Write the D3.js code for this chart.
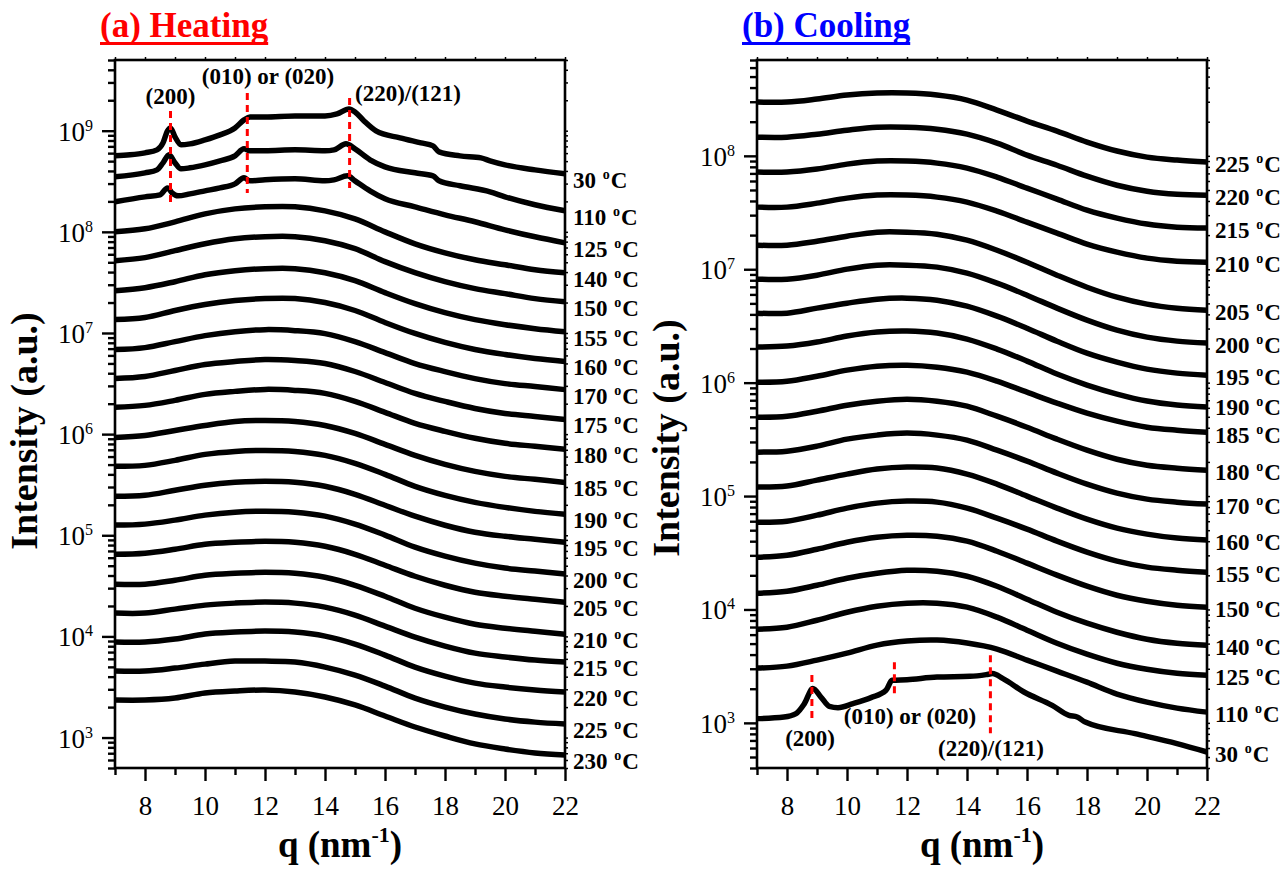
<!DOCTYPE html>
<html>
<head>
<meta charset="utf-8">
<script src="https://cdn.jsdelivr.net/npm/d3@7/dist/d3.min.js"></script>
<style>
  body { margin: 0; background: #fff; }
  svg { display: block; }
  text { font-family: "Liberation Serif", "Times New Roman", Times, serif; }
</style>
</head>
<body>
<svg id="chart" width="1286" height="871"></svg>
<script>
// ---------------- data ----------------
// scattering vector q (nm^-1)
const qDomain = [7, 22];
const qMajor = [8, 10, 12, 14, 16, 18, 20, 22];
const qMinor = [7, 9, 11, 13, 15, 17, 19, 21];

// common q grid of the amorphous-halo profiles
const qAmorph = [7, 8, 9, 10, 11, 12, 13, 14, 15, 16, 17, 18, 19, 20, 21, 22];

// profiles are relative intensities (1 at q = 7); each is lifted by its stack factor
// ---- heating ----
const heatTemps = [30, 110, 125, 140, 150, 155, 160, 170, 175, 180, 185, 190, 195, 200, 205, 210, 215, 220, 225, 230];
const heatStack = [5.64e8, 3.50e8, 1.98e8, 1.00e8, 5.19e7, 2.62e7, 1.36e7, 6.85e6, 3.55e6, 1.84e6,
                   9.28e5, 4.80e5, 2.43e5, 1.26e5, 6.49e4, 3.28e4, 1.70e4, 8.79e3, 4.54e3, 2.35e3];

const qHeat30 = [7, 7.5, 8, 8.4, 8.6, 8.75, 8.85, 9.0, 9.2, 9.5, 10, 10.5, 11, 11.3, 11.5, 12, 13, 14, 14.4, 14.8,
                 15, 15.3, 15.7, 16.5, 17.2, 17.6, 17.8, 18.5, 19.2, 19.5, 20, 21, 22];
const heat30 = [1, 1.023, 1.071, 1.146, 1.343, 1.766, 1.889, 1.540, 1.284, 1.313, 1.438, 1.612, 1.889, 2.266, 2.427,
                2.427, 2.483, 2.483, 2.598, 2.911, 2.718, 2.216, 1.766, 1.505, 1.343, 1.255, 1.095, 1, 0.956, 0.893,
                0.815, 0.727, 0.664];
const qHeat110 = [7, 8, 8.4, 8.6, 8.8, 9.0, 9.2, 9.5, 10, 10.5, 11, 11.3, 11.5, 12, 13, 14, 14.3, 14.7, 15, 15.5,
                  16, 17, 17.6, 17.8, 18.5, 19.5, 20, 21, 22];
const heat110 = [1, 1.095, 1.172, 1.374, 1.649, 1.374, 1.199, 1.227, 1.313, 1.438, 1.612, 1.889, 1.806, 1.806, 1.847,
                 1.806, 1.847, 2.117, 1.889, 1.471, 1.255, 1.095, 1.023, 0.913, 0.815, 0.711, 0.635, 0.529, 0.461];
const qHeat125 = [7, 8, 8.5, 8.75, 8.9, 9.1, 9.5, 10, 10.5, 11, 11.3, 11.5, 12, 13, 14, 14.3, 14.75, 15, 15.5, 16,
                  17, 18, 19, 20, 21, 22];
const heat125 = [1, 1.120, 1.172, 1.374, 1.227, 1.146, 1.199, 1.284, 1.374, 1.505, 1.726, 1.612, 1.649, 1.687, 1.612,
                 1.649, 1.806, 1.612, 1.284, 1.071, 0.893, 0.744, 0.635, 0.529, 0.451, 0.393];
const heat140 = [1, 1.071, 1.255, 1.505, 1.687, 1.766, 1.766, 1.612, 1.343, 1, 0.761, 0.620, 0.529, 0.472, 0.421, 0.393];
const heat150 = [1, 1.071, 1.255, 1.471, 1.649, 1.726, 1.726, 1.575, 1.313, 0.977, 0.761, 0.620, 0.529, 0.472, 0.421, 0.393];
const heat155 = [1, 1.071, 1.227, 1.438, 1.575, 1.649, 1.649, 1.505, 1.255, 0.956, 0.744, 0.606, 0.517, 0.461, 0.421, 0.393];
const heat160 = [1, 1.046, 1.227, 1.406, 1.540, 1.612, 1.612, 1.471, 1.227, 0.934, 0.727, 0.593, 0.505, 0.451, 0.412, 0.385];
const heat170 = [1, 1.046, 1.199, 1.374, 1.505, 1.575, 1.540, 1.438, 1.199, 0.934, 0.727, 0.606, 0.517, 0.461, 0.431, 0.402];
const heat175 = [1, 1.046, 1.199, 1.374, 1.471, 1.540, 1.505, 1.406, 1.172, 0.913, 0.711, 0.593, 0.505, 0.451, 0.421, 0.393];
const heat180 = [1, 1.046, 1.172, 1.343, 1.438, 1.505, 1.471, 1.374, 1.146, 0.893, 0.695, 0.579, 0.494, 0.441, 0.412, 0.385];
const heat185 = [1, 1.046, 1.172, 1.313, 1.438, 1.471, 1.438, 1.313, 1.095, 0.853, 0.664, 0.541, 0.461, 0.412, 0.385, 0.359];
const heat190 = [1, 1.023, 1.146, 1.313, 1.406, 1.438, 1.406, 1.284, 1.071, 0.834, 0.635, 0.517, 0.441, 0.393, 0.359, 0.336];
const heat195 = [1, 1.023, 1.146, 1.284, 1.374, 1.406, 1.374, 1.255, 1.046, 0.815, 0.635, 0.517, 0.441, 0.402, 0.376, 0.351];
const heat200 = [1, 1.023, 1.120, 1.255, 1.343, 1.374, 1.343, 1.227, 1.023, 0.797, 0.606, 0.494, 0.421, 0.376, 0.351, 0.328];
const heat205 = [1, 1.023, 1.120, 1.255, 1.313, 1.343, 1.313, 1.199, 1, 0.779, 0.606, 0.494, 0.421, 0.385, 0.359, 0.336];
const heat210 = [1, 1, 1.095, 1.227, 1.284, 1.313, 1.284, 1.172, 0.977, 0.761, 0.579, 0.472, 0.402, 0.368, 0.343, 0.321];
const heat215 = [1, 1, 1.095, 1.199, 1.255, 1.284, 1.255, 1.146, 0.956, 0.744, 0.579, 0.472, 0.402, 0.368, 0.343, 0.328];
const heat220 = [1, 1, 1.071, 1.199, 1.255, 1.284, 1.255, 1.146, 0.956, 0.744, 0.566, 0.461, 0.393, 0.359, 0.336, 0.321];
const heat225 = [1, 1, 1.071, 1.172, 1.255, 1.255, 1.227, 1.095, 0.913, 0.711, 0.541, 0.441, 0.376, 0.336, 0.313, 0.300];
const heat230 = [1, 1, 1.046, 1.172, 1.227, 1.255, 1.199, 1.071, 0.893, 0.695, 0.541, 0.441, 0.368, 0.328, 0.300, 0.286];

// ---- cooling ----
const coolTemps = [225, 220, 215, 210, 205, 200, 195, 190, 185, 180, 170, 160, 155, 150, 140, 125, 110, 30];
const coolStack = [2.98e8, 1.46e8, 7.19e7, 3.53e7, 1.63e7, 8.18e6, 4.10e6, 2.06e6, 1.01e6, 4.96e5,
                   2.44e5, 1.20e5, 5.89e4, 2.89e4, 1.39e4, 6.70e3, 3.04e3, 1.09e3];

const cool225 = [1, 1, 1.063, 1.152, 1.200, 1.200, 1.152, 1.041, 0.850, 0.680, 0.555, 0.444, 0.370, 0.327, 0.308, 0.296];
const cool220 = [1, 1, 1.063, 1.152, 1.225, 1.225, 1.176, 1.063, 0.886, 0.694, 0.566, 0.453, 0.377, 0.334, 0.314, 0.308];
const cool215 = [1, 1, 1.063, 1.176, 1.250, 1.250, 1.200, 1.084, 0.903, 0.722, 0.578, 0.462, 0.393, 0.348, 0.327, 0.321];
const cool210 = [1, 1, 1.084, 1.200, 1.276, 1.276, 1.225, 1.107, 0.922, 0.737, 0.590, 0.472, 0.401, 0.355, 0.334, 0.327];
const cool205 = [1, 1, 1.084, 1.200, 1.302, 1.302, 1.250, 1.107, 0.903, 0.708, 0.544, 0.426, 0.348, 0.302, 0.278, 0.267];
const cool200 = [1, 1, 1.084, 1.225, 1.329, 1.329, 1.276, 1.129, 0.922, 0.722, 0.555, 0.435, 0.355, 0.308, 0.284, 0.273];
const cool195 = [1, 1, 1.107, 1.225, 1.329, 1.356, 1.302, 1.152, 0.941, 0.737, 0.566, 0.444, 0.370, 0.321, 0.296, 0.284];
const cool190 = [1, 1.020, 1.107, 1.250, 1.356, 1.384, 1.329, 1.176, 0.960, 0.752, 0.578, 0.462, 0.385, 0.334, 0.308, 0.296];
const cool185 = [1, 1.020, 1.129, 1.276, 1.384, 1.412, 1.356, 1.225, 1.020, 0.816, 0.653, 0.533, 0.453, 0.401, 0.377, 0.362];
const cool180 = [1, 1.020, 1.129, 1.276, 1.384, 1.441, 1.384, 1.250, 1.020, 0.816, 0.640, 0.512, 0.426, 0.377, 0.355, 0.341];
const cool170 = [1, 1.020, 1.129, 1.302, 1.412, 1.471, 1.412, 1.276, 1.041, 0.833, 0.653, 0.522, 0.435, 0.385, 0.362, 0.348];
const cool160 = [1, 1.020, 1.152, 1.302, 1.441, 1.501, 1.471, 1.302, 1.063, 0.833, 0.653, 0.522, 0.435, 0.385, 0.355, 0.341];
const cool155 = [1, 1.020, 1.152, 1.329, 1.471, 1.532, 1.501, 1.329, 1.084, 0.868, 0.680, 0.544, 0.453, 0.401, 0.377, 0.362];
const cool150 = [1, 1.041, 1.176, 1.356, 1.501, 1.563, 1.532, 1.384, 1.129, 0.886, 0.694, 0.555, 0.462, 0.409, 0.377, 0.362];
const cool140 = [1, 1.041, 1.176, 1.356, 1.501, 1.595, 1.563, 1.412, 1.152, 0.886, 0.680, 0.544, 0.453, 0.393, 0.362, 0.348];
const cool125 = [1, 1.041, 1.200, 1.412, 1.595, 1.696, 1.696, 1.563, 1.276, 0.980, 0.752, 0.602, 0.501, 0.444, 0.409, 0.393];
const cool110 = [1, 1.041, 1.176, 1.356, 1.595, 1.730, 1.766, 1.662, 1.471, 1.176, 0.941, 0.752, 0.590, 0.501, 0.444, 0.409];
const qCool30 = [7, 7.9, 8.3, 8.58, 8.86, 9.13, 9.41, 9.7, 10.2, 10.8, 11.3, 11.5, 12, 13, 14.1, 14.64, 14.85, 15.2,
                 15.9, 16.84, 17.4, 17.67, 17.94, 19.6, 21, 22];
const cool30 = [1, 1.033, 1.107, 1.356, 1.839, 1.551, 1.284, 1.250, 1.356, 1.532, 1.777, 2.177, 2.207, 2.327, 2.360,
                2.443, 2.494, 2.253, 1.717, 1.310, 1.069, 1.033, 0.933, 0.737, 0.602, 0.508];

// reflection labels
const peakNames = ['(200)', '(010) or (020)', '(220)/(121)'];

// ---------------- drawing ----------------
const svg = d3.select('#chart');
const isDecade = v => Math.abs(Math.log10(v) - Math.round(Math.log10(v))) < 1e-9;

const heatProfiles = [[qHeat30, heat30], [qHeat110, heat110], [qHeat125, heat125],
  [qAmorph, heat140], [qAmorph, heat150], [qAmorph, heat155], [qAmorph, heat160], [qAmorph, heat170],
  [qAmorph, heat175], [qAmorph, heat180], [qAmorph, heat185], [qAmorph, heat190], [qAmorph, heat195],
  [qAmorph, heat200], [qAmorph, heat205], [qAmorph, heat210], [qAmorph, heat215], [qAmorph, heat220],
  [qAmorph, heat225], [qAmorph, heat230]];
const coolProfiles = [[qAmorph, cool225], [qAmorph, cool220], [qAmorph, cool215], [qAmorph, cool210],
  [qAmorph, cool205], [qAmorph, cool200], [qAmorph, cool195], [qAmorph, cool190], [qAmorph, cool185],
  [qAmorph, cool180], [qAmorph, cool170], [qAmorph, cool160], [qAmorph, cool155], [qAmorph, cool150],
  [qAmorph, cool140], [qAmorph, cool125], [qAmorph, cool110], [qCool30, cool30]];

function drawPanel(p) {
  const g = svg.append('g');
  const x = d3.scaleLinear().domain(qDomain).range([p.left, p.right]);
  const y = d3.scaleLog().domain(p.yDomain).range([p.bottom, p.top]);

  const allY = y.ticks();
  const majorY = allY.filter(isDecade);
  const minorY = allY.filter(v => !isDecade(v));

  const styleAxis = sel => {
    sel.select('.domain').remove();
    sel.selectAll('.tick line').attr('stroke', '#000').attr('stroke-width', 2.4);
  };
  const noLabels = sel => sel.selectAll('.tick text').remove();

  // left axis: minor then major ticks, outside
  g.append('g').attr('transform', `translate(${p.left},0)`)
    .call(d3.axisLeft(y).tickValues(minorY).tickSize(7)).call(styleAxis).call(noLabels);
  g.append('g').attr('transform', `translate(${p.left},0)`)
    .call(d3.axisLeft(y).tickValues(majorY).tickSize(13)).call(styleAxis).call(noLabels);
  // right and top axes: short ticks only
  g.append('g').attr('transform', `translate(${p.right},0)`)
    .call(d3.axisRight(y).tickValues(allY).tickSize(3)).call(styleAxis).call(noLabels)
    .selectAll('.tick line').attr('stroke-width', 1.5);
  g.append('g').attr('transform', `translate(0,${p.top})`)
    .call(d3.axisTop(x).tickValues(d3.range(7, 22.5, 1)).tickSize(3)).call(styleAxis).call(noLabels)
    .selectAll('.tick line').attr('stroke-width', 1.5);
  // bottom axis
  g.append('g').attr('transform', `translate(0,${p.bottom})`)
    .call(d3.axisBottom(x).tickValues(qMinor).tickSize(7)).call(styleAxis).call(noLabels);
  const xb = g.append('g').attr('transform', `translate(0,${p.bottom})`)
    .call(d3.axisBottom(x).tickValues(qMajor).tickSize(13).tickPadding(15).tickFormat(d3.format('d')))
    .call(styleAxis);
  xb.selectAll('.tick text').attr('font-size', 27).attr('fill', '#000')
    .attr('font-family', '"Liberation Serif","Times New Roman",serif');

  // decade labels 10^n
  majorY.forEach(v => {
    const t = g.append('text').attr('x', p.left - 22).attr('y', y(v) + 10)
      .attr('text-anchor', 'end').attr('font-size', 27).attr('fill', '#000');
    t.append('tspan').text('10');
    t.append('tspan').attr('dy', -10).attr('font-size', 16).text(Math.round(Math.log10(v)));
  });

  // frame
  g.append('rect').attr('x', p.left).attr('y', p.top)
    .attr('width', p.right - p.left).attr('height', p.bottom - p.top)
    .attr('fill', 'none').attr('stroke', '#000').attr('stroke-width', 2.6);

  // profiles
  p.profiles.forEach(([qs, rel], i) => {
    const pts = qs.map((q, j) => [q, rel[j] * p.stack[i]]);
    const smooth = qs === qAmorph ? d3.curveCatmullRom.alpha(0.5) : d3.curveMonotoneX;
    g.append('path').datum(pts)
      .attr('d', d3.line().x(d => x(d[0])).y(d => y(d[1])).curve(smooth))
      .attr('fill', 'none').attr('stroke', '#000').attr('stroke-width', 5.5)
      .attr('stroke-linejoin', 'round');

    // temperature label at the right end of the profile
    const endY = y(pts[pts.length - 1][1]) + p.labelDy + (p.nudge[p.temps[i]] || 0);
    const t = g.append('text').attr('x', p.right + 8).attr('y', endY + 8)
      .attr('font-size', 23).attr('font-weight', 'bold').attr('fill', '#000');
    t.append('tspan').text(p.temps[i] + ' ');
    t.append('tspan').attr('dx', 1).attr('dy', -9).attr('font-size', 14).text('o');
    t.append('tspan').attr('dx', 1).attr('dy', 9).text('C');
  });

  // reflection markers
  p.peaks.forEach((pk, i) => {
    g.append('line').attr('x1', x(pk.q)).attr('x2', x(pk.q))
      .attr('y1', y(pk.from)).attr('y2', y(pk.to))
      .attr('stroke', '#ff0000').attr('stroke-width', 3).attr('stroke-dasharray', '7,5');
    g.append('text').attr('x', x(pk.lq)).attr('y', y(pk.li))
      .attr('text-anchor', pk.anchor).attr('font-size', 23).attr('font-weight', 'bold')
      .attr('fill', '#000').text(peakNames[i]);
  });

  // panel title
  const title = svg.append('text').attr('x', p.titleX).attr('y', 37)
    .attr('font-size', 35).attr('font-weight', 'bold').attr('fill', p.titleColor).text(p.title);
  const tw = title.node().getComputedTextLength();
  svg.append('rect').attr('x', p.titleX).attr('y', 42).attr('width', tw).attr('height', 3)
    .attr('fill', p.titleColor);

  // axis titles
  svg.append('text').attr('transform', `translate(${p.left - 78},${p.yTitleY}) rotate(-90)`)
    .attr('text-anchor', 'middle').attr('font-size', 38).attr('font-weight', 'bold')
    .text('Intensity (a.u.)');
  const xt = svg.append('text').attr('x', (p.left + p.right) / 2).attr('y', 857)
    .attr('text-anchor', 'middle').attr('font-size', 37).attr('font-weight', 'bold');
  xt.append('tspan').text('q (nm');
  xt.append('tspan').attr('dy', -15).attr('font-size', 22).text('-1');
  xt.append('tspan').attr('dy', 15).text(')');
}

drawPanel({
  left: 115, right: 565, top: 60, bottom: 768,
  yDomain: [500, 5e9],
  profiles: heatProfiles, stack: heatStack, temps: heatTemps,
  labelDy: 6, nudge: {},
  peaks: [
    { q: 8.85, from: 1.57e9, to: 1.93e8, lq: 8.85, li: 1.84e9, anchor: 'middle' },
    { q: 11.41, from: 2.36e9, to: 2.42e8, lq: 12.1, li: 2.90e9, anchor: 'middle' },
    { q: 14.82, from: 2.10e9, to: 2.71e8, lq: 15.0, li: 1.97e9, anchor: 'start' }
  ],
  title: '(a) Heating', titleX: 100, titleColor: '#ff0000', yTitleY: 431
});

drawPanel({
  left: 757, right: 1207, top: 60, bottom: 768,
  yDomain: [400, 7e8],
  profiles: coolProfiles, stack: coolStack, temps: coolTemps,
  labelDy: 2, nudge: { 190: -2, 185: 1 },
  peaks: [
    { q: 8.83, from: 2.64e3, to: 1.01e3, lq: 8.77, li: 624, anchor: 'middle' },
    { q: 11.58, from: 3.43e3, to: 1.65e3, lq: 12.1, li: 975, anchor: 'middle' },
    { q: 14.78, from: 3.95e3, to: 811, lq: 14.8, li: 508, anchor: 'middle' }
  ],
  title: '(b) Cooling', titleX: 742, titleColor: '#0000ff', yTitleY: 438
});
</script>
</body>
</html>
